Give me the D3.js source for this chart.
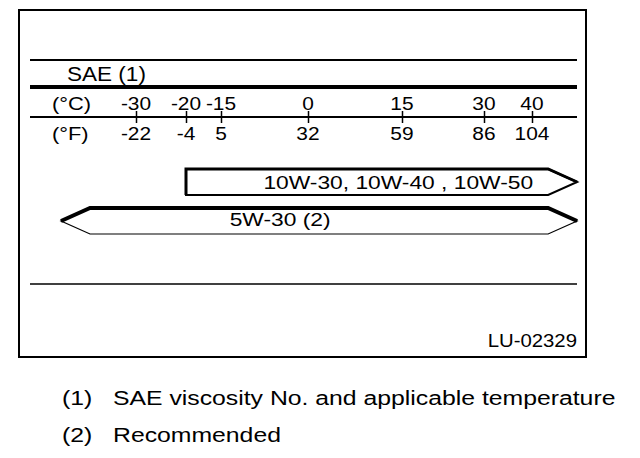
<!DOCTYPE html>
<html>
<head>
<meta charset="utf-8">
<script src="https://cdn.jsdelivr.net/npm/d3@7/dist/d3.min.js"></script>
<style>
  html, body { margin: 0; padding: 0; background: #fff; }
  svg { display: block; }
  text { font-family: "Liberation Sans", Arial, Helvetica, sans-serif; fill: #000; }
</style>
</head>
<body>
<svg id="chart" width="640" height="458"></svg>
<script>
// temperature scale, both units
var celsius = [-30, -20, -15, 0, 15, 30, 40];
var fahrenheit = [-22, -4, 5, 32, 59, 86, 104];

// oil grades and the range they cover (deg C), the last one runs off both ends
var grades = ['10W-30, 10W-40 , 10W-50', '5W-30 (2)'];
var gradeFrom = [-20, -45];
var gradeTo = [49.4, 49.4];
var openLeft = [false, true];

var noteKeys = ['(1)', '(2)'];
var noteTexts = ['SAE viscosity No. and applicable temperature', 'Recommended'];

var svg = d3.select('#chart');

// the printed scale is schematic, not even: piecewise between the ticks
var x = d3.scaleLinear()
    .domain(celsius)
    .range([136, 186, 221, 308, 402, 484, 532]);

var stretch = 1.2,
    tipLen = 29,
    barH = 26;

function label(g, str, px, py, size, anchor, sx) {
    return g.append('text')
        .attr('transform', 'translate(' + px + ',' + py + ') scale(' + (sx || stretch) + ',1)')
        .attr('font-size', size)
        .attr('text-anchor', anchor || 'start')
        .text(str);
}

// frame and rules
svg.append('rect')
    .attr('x', 19).attr('y', 10)
    .attr('width', 567).attr('height', 347)
    .attr('fill', 'none')
    .attr('stroke', '#000')
    .attr('stroke-width', 2);

var rules = [[60, 2], [87, 4], [117, 2], [284, 1.5]];
svg.selectAll('line.rule')
    .data(rules)
    .enter().append('line')
    .attr('class', 'rule')
    .attr('x1', 30).attr('x2', 577)
    .attr('y1', function(d) { return d[0]; })
    .attr('y2', function(d) { return d[0]; })
    .attr('stroke', '#000')
    .attr('stroke-width', function(d) { return d[1]; });

label(svg, 'SAE (1)', 67, 81, 20.5, 'start', 1.1);
label(svg, '(°C)', 52, 110, 19, 'start', 1.15);
label(svg, '(°F)', 52, 140, 19, 'start', 1.15);

// ticks across the middle rule
var axis = d3.axisBottom(x)
    .tickValues(celsius)
    .tickSize(12)
    .tickFormat('');
var ax = svg.append('g')
    .attr('transform', 'translate(0,111)')
    .call(axis);
ax.select('.domain').remove();
ax.selectAll('.tick line').attr('stroke', '#000').attr('stroke-width', 1.5);

celsius.forEach(function(c, i) {
    label(svg, String(c), x(c), 110, 19, 'middle', 1.1);
    label(svg, String(fahrenheit[i]), x(c), 140, 19, 'middle', 1.1);
});

// grade arrows
var rowY = [169, 208];
grades.forEach(function(name, i) {
    var y0 = rowY[i],
        y1 = y0 + barH,
        ym = (y0 + y1) / 2,
        left = x(gradeFrom[i]),
        right = x(gradeTo[i]),
        bodyL = openLeft[i] ? left + tipLen : left,
        bodyR = right - tipLen;

    var g = svg.append('g').attr('class', 'grade');

    // outline, thin
    var outline = openLeft[i]
        ? [[bodyL, y0], [bodyR, y0], [right, ym], [bodyR, y1], [bodyL, y1], [left, ym]]
        : [[left, y0], [bodyR, y0], [right, ym], [bodyR, y1], [left, y1]];
    g.append('path')
        .attr('d', d3.line()(outline) + 'Z')
        .attr('fill', '#fff')
        .attr('stroke', '#000')
        .attr('stroke-width', openLeft[i] ? 1.2 : 2);

    // heavy top edge, shadow look
    var heavy = openLeft[i]
        ? [[left, ym], [bodyL, y0], [bodyR, y0], [right, ym]]
        : [[left, y1], [left, y0], [bodyR, y0], [right, ym]];
    g.append('path')
        .attr('d', d3.line()(heavy))
        .attr('fill', 'none')
        .attr('stroke', '#000')
        .attr('stroke-width', openLeft[i] ? 4 : 3)
        .attr('stroke-linejoin', 'miter');

    if (openLeft[i]) {
        label(g, name, x(-13.5), y1 - 8, 19, 'start');
    } else {
        label(g, name, bodyR - 15, y1 - 6, 19, 'end');
    }
});

label(svg, 'LU-02329', 577, 347, 18.5, 'end', 1.1);

// notes under the frame
noteKeys.forEach(function(k, i) {
    var py = 405 + i * 37;
    label(svg, k, 62, py, 21, 'start', 1.18);
    label(svg, noteTexts[i], 113, py, 21, 'start', 1.18);
});
</script>
</body>
</html>
